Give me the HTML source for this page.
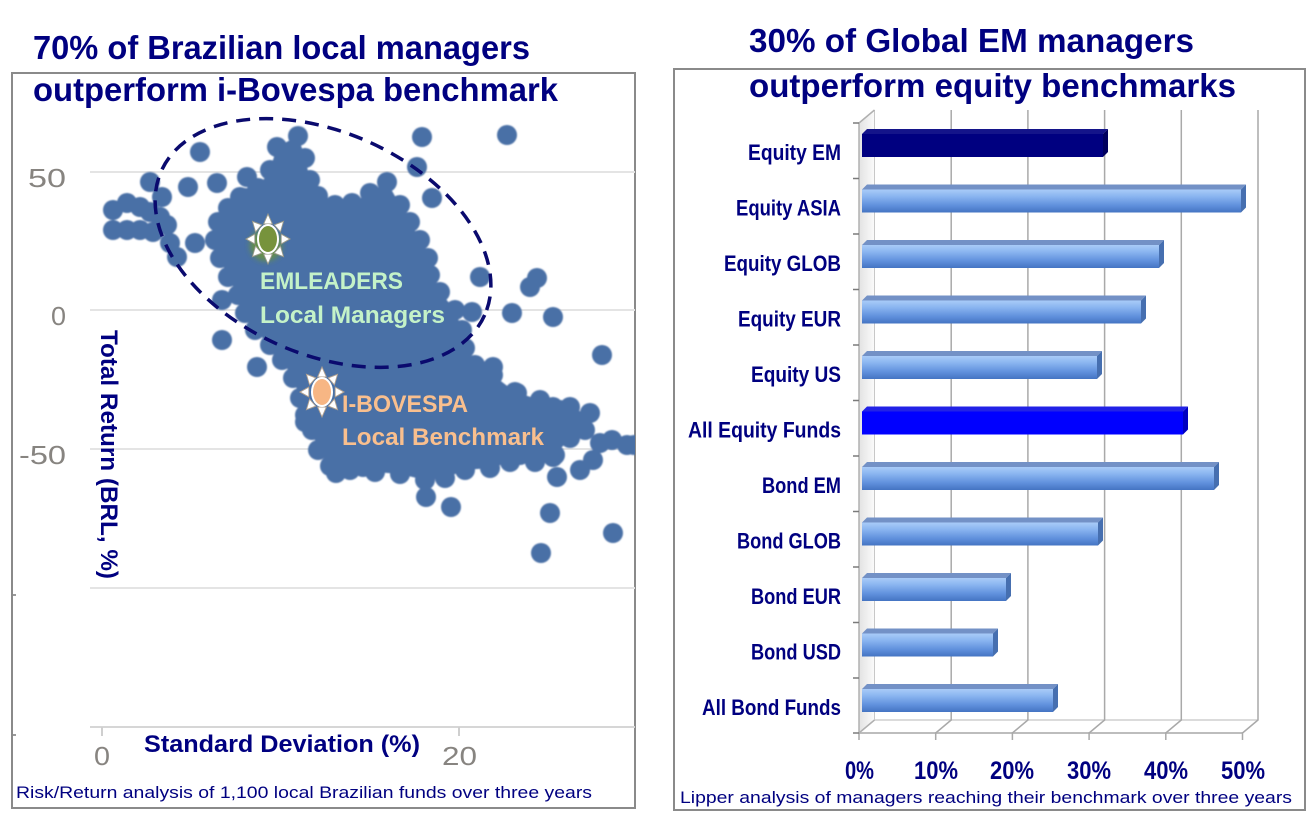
<!DOCTYPE html>
<html><head><meta charset="utf-8"><style>
html,body{margin:0;padding:0;background:#fff;}
svg{display:block;}
text{font-family:"Liberation Sans",Arial,sans-serif;}
</style></head><body>
<svg width="1309" height="817" viewBox="0 0 1309 817" xmlns="http://www.w3.org/2000/svg">
<defs>
<filter id="bl" x="-5%" y="-5%" width="110%" height="110%"><feGaussianBlur stdDeviation="0.7"/></filter>
<filter id="glow" x="-50%" y="-50%" width="200%" height="200%"><feGaussianBlur stdDeviation="3"/></filter>
<clipPath id="cl"><rect x="13" y="74" width="622" height="733"/></clipPath>
<linearGradient id="lb" x1="0" y1="0" x2="0" y2="1">
<stop offset="0" stop-color="#a9cbf8"/><stop offset="0.3" stop-color="#8ab5f0"/><stop offset="0.7" stop-color="#5f90dc"/><stop offset="1" stop-color="#4474c2"/>
</linearGradient>
<linearGradient id="wall" x1="0" y1="0" x2="1" y2="0">
<stop offset="0" stop-color="#d0d0d0"/><stop offset="1" stop-color="#f8f8f8"/>
</linearGradient>
</defs>
<rect width="1309" height="817" fill="#fff"/>

<!-- LEFT PANEL -->
<rect x="12" y="73" width="623" height="735" fill="none" stroke="#8a8a8a" stroke-width="2"/>
<text x="33" y="59" font-size="33" font-weight="bold" fill="#000080" textLength="497" lengthAdjust="spacingAndGlyphs">70% of Brazilian local managers</text>
<text x="33" y="101" font-size="33" font-weight="bold" fill="#000080" textLength="525" lengthAdjust="spacingAndGlyphs">outperform i-Bovespa benchmark</text>

<!-- gridlines -->
<g stroke="#e4e4e4" stroke-width="2">
<line x1="90" y1="172" x2="635" y2="172"/>
<line x1="90" y1="310" x2="635" y2="310"/>
<line x1="90" y1="449" x2="635" y2="449"/>
<line x1="90" y1="588" x2="635" y2="588"/>
</g>
<line x1="90" y1="727" x2="635" y2="727" stroke="#d6d6d6" stroke-width="2"/>
<line x1="102" y1="727" x2="102" y2="736" stroke="#cfcfcf" stroke-width="2"/>
<line x1="459" y1="727" x2="459" y2="736" stroke="#cfcfcf" stroke-width="2"/>
<rect x="13" y="594" width="3" height="2" fill="#999"/>
<rect x="13" y="734" width="3" height="2" fill="#999"/>

<g font-size="26" fill="#878480">
<text x="28" y="187" textLength="38" lengthAdjust="spacingAndGlyphs">50</text>
<text x="51" y="325" textLength="15" lengthAdjust="spacingAndGlyphs">0</text>
<text x="19" y="464" textLength="47" lengthAdjust="spacingAndGlyphs">-50</text>
<text x="94" y="765" textLength="16" lengthAdjust="spacingAndGlyphs">0</text>
<text x="442" y="765" textLength="35" lengthAdjust="spacingAndGlyphs">20</text>
</g>

<!-- scatter -->
<g clip-path="url(#cl)">
<g fill="#4a70a6" filter="url(#bl)">
<polygon points="277,147 298,136 305,158 310,180 318,196 335,205 352,203 370,193 387,182 400,205 410,222 420,240 428,258 430,275 440,292 455,310 462,330 465,348 475,365 493,375 515,392 540,400 560,410 575,420 570,438 555,455 535,462 510,462 490,468 465,470 445,478 425,480 400,474 375,472 350,470 330,466 318,450 312,430 305,415 300,398 293,378 282,360 270,345 255,330 245,313 238,295 228,277 220,258 215,240 218,222 228,208 245,198 258,188 270,170"/>
<g>
<circle cx="277" cy="147" r="10"/><circle cx="298" cy="136" r="10"/><circle cx="305" cy="158" r="10"/><circle cx="310" cy="180" r="10"/><circle cx="318" cy="196" r="10"/><circle cx="335" cy="205" r="10"/><circle cx="352" cy="203" r="10"/><circle cx="370" cy="193" r="10"/><circle cx="387" cy="182" r="10"/><circle cx="400" cy="205" r="10"/><circle cx="410" cy="222" r="10"/><circle cx="420" cy="240" r="10"/><circle cx="428" cy="258" r="10"/><circle cx="430" cy="275" r="10"/><circle cx="440" cy="292" r="10"/><circle cx="455" cy="310" r="10"/><circle cx="462" cy="330" r="10"/><circle cx="465" cy="348" r="10"/><circle cx="475" cy="365" r="10"/><circle cx="493" cy="375" r="10"/><circle cx="515" cy="392" r="10"/><circle cx="540" cy="400" r="10"/><circle cx="560" cy="410" r="10"/><circle cx="575" cy="420" r="10"/><circle cx="570" cy="438" r="10"/><circle cx="555" cy="455" r="10"/><circle cx="535" cy="462" r="10"/><circle cx="510" cy="462" r="10"/><circle cx="490" cy="468" r="10"/><circle cx="465" cy="470" r="10"/><circle cx="445" cy="478" r="10"/><circle cx="425" cy="480" r="10"/><circle cx="400" cy="474" r="10"/><circle cx="375" cy="472" r="10"/><circle cx="350" cy="470" r="10"/><circle cx="330" cy="466" r="10"/><circle cx="318" cy="450" r="10"/><circle cx="312" cy="430" r="10"/><circle cx="305" cy="415" r="10"/><circle cx="300" cy="398" r="10"/><circle cx="293" cy="378" r="10"/><circle cx="282" cy="360" r="10"/><circle cx="270" cy="345" r="10"/><circle cx="255" cy="330" r="10"/><circle cx="245" cy="313" r="10"/><circle cx="238" cy="295" r="10"/><circle cx="228" cy="277" r="10"/><circle cx="220" cy="258" r="10"/><circle cx="215" cy="240" r="10"/><circle cx="218" cy="222" r="10"/><circle cx="228" cy="208" r="10"/><circle cx="245" cy="198" r="10"/><circle cx="258" cy="188" r="10"/><circle cx="270" cy="170" r="10"/>
</g>
<g>
<!-- left cluster -->
<circle cx="113" cy="210" r="10"/><circle cx="127" cy="203" r="10"/><circle cx="140" cy="207" r="10"/><circle cx="150" cy="212" r="10"/><circle cx="160" cy="217" r="10"/><circle cx="113" cy="230" r="10"/><circle cx="127" cy="230" r="10"/><circle cx="140" cy="230" r="10"/><circle cx="153" cy="232" r="10"/><circle cx="167" cy="225" r="10"/><circle cx="170" cy="243" r="10"/><circle cx="177" cy="257" r="10"/><circle cx="162" cy="197" r="10"/><circle cx="150" cy="182" r="10"/>
<!-- upper isolated -->
<circle cx="200" cy="152" r="10"/><circle cx="188" cy="187" r="10"/><circle cx="217" cy="183" r="10"/><circle cx="195" cy="243" r="10"/><circle cx="247" cy="177" r="10"/><circle cx="257" cy="190" r="10"/><circle cx="240" cy="197" r="10"/><circle cx="222" cy="300" r="10"/><circle cx="222" cy="340" r="10"/><circle cx="257" cy="367" r="10"/>
<!-- right side -->
<circle cx="422" cy="137" r="10"/><circle cx="507" cy="135" r="10"/><circle cx="417" cy="167" r="10"/><circle cx="432" cy="198" r="10"/><circle cx="480" cy="277" r="10"/><circle cx="537" cy="278" r="10"/><circle cx="530" cy="287" r="10"/><circle cx="472" cy="312" r="10"/><circle cx="512" cy="313" r="10"/><circle cx="553" cy="317" r="10"/><circle cx="602" cy="355" r="10"/><circle cx="493" cy="367" r="10"/><circle cx="517" cy="393" r="10"/>
<!-- lower right -->
<circle cx="553" cy="407" r="10"/><circle cx="570" cy="407" r="10"/><circle cx="590" cy="413" r="10"/><circle cx="600" cy="443" r="10"/><circle cx="612" cy="440" r="10"/><circle cx="627" cy="445" r="10"/><circle cx="634" cy="445" r="10"/><circle cx="553" cy="457" r="10"/><circle cx="593" cy="460" r="10"/><circle cx="557" cy="477" r="10"/><circle cx="550" cy="513" r="10"/><circle cx="613" cy="533" r="10"/><circle cx="541" cy="553" r="10"/><circle cx="426" cy="497" r="10"/><circle cx="451" cy="507" r="10"/><circle cx="336" cy="473" r="10"/><circle cx="363" cy="467" r="10"/><circle cx="305" cy="422" r="10"/><circle cx="585" cy="430" r="10"/><circle cx="520" cy="455" r="10"/><circle cx="580" cy="470" r="10"/>
</g>
</g>
</g>

<!-- dashed ellipse -->
<ellipse cx="323" cy="243" rx="177" ry="111" transform="rotate(24 323 243)" fill="none" stroke="#0a0a6e" stroke-width="3.5" stroke-dasharray="14 9"/>

<!-- green sun -->
<circle cx="266" cy="245" r="16" fill="#6e9a2a" opacity="0.75" filter="url(#glow)"/>
<g transform="translate(268,239)">
<g transform="scale(0.88,1)" fill="#fff" stroke="#9a9a8a" stroke-width="1">
<polygon points="0,-25 -5,-15 5,-15"/>
<polygon points="0,-25 -5,-15 5,-15" transform="rotate(45)"/>
<polygon points="0,-25 -5,-15 5,-15" transform="rotate(90)"/>
<polygon points="0,-25 -5,-15 5,-15" transform="rotate(135)"/>
<polygon points="0,-25 -5,-15 5,-15" transform="rotate(180)"/>
<polygon points="0,-25 -5,-15 5,-15" transform="rotate(225)"/>
<polygon points="0,-25 -5,-15 5,-15" transform="rotate(270)"/>
<polygon points="0,-25 -5,-15 5,-15" transform="rotate(315)"/>
</g>
<ellipse rx="11" ry="15" fill="#fff"/>
<ellipse rx="9" ry="13" fill="#77933c"/>
</g>

<!-- orange sun -->
<g transform="translate(322,392)">
<g transform="scale(0.88,1)" fill="#fff" stroke="#b0a090" stroke-width="1">
<polygon points="0,-25 -5,-15 5,-15"/>
<polygon points="0,-25 -5,-15 5,-15" transform="rotate(45)"/>
<polygon points="0,-25 -5,-15 5,-15" transform="rotate(90)"/>
<polygon points="0,-25 -5,-15 5,-15" transform="rotate(135)"/>
<polygon points="0,-25 -5,-15 5,-15" transform="rotate(180)"/>
<polygon points="0,-25 -5,-15 5,-15" transform="rotate(225)"/>
<polygon points="0,-25 -5,-15 5,-15" transform="rotate(270)"/>
<polygon points="0,-25 -5,-15 5,-15" transform="rotate(315)"/>
</g>
<ellipse rx="11" ry="15" fill="#fff"/>
<ellipse rx="9" ry="13" fill="#f7b684"/>
</g>

<g font-size="24" font-weight="bold">
<text x="260" y="289" fill="#c4f2c8" textLength="143" lengthAdjust="spacingAndGlyphs">EMLEADERS</text>
<text x="260" y="323" fill="#c4f2c8" textLength="185" lengthAdjust="spacingAndGlyphs">Local Managers</text>
<text x="342" y="412" fill="#f9bf8e" textLength="126" lengthAdjust="spacingAndGlyphs">I-BOVESPA</text>
<text x="342" y="445" fill="#f9bf8e" textLength="202" lengthAdjust="spacingAndGlyphs">Local Benchmark</text>
</g>

<text transform="translate(101,330) rotate(90)" font-size="24" font-weight="bold" fill="#000080" textLength="249" lengthAdjust="spacingAndGlyphs">Total Return (BRL, %)</text>
<text x="144" y="752" font-size="24" font-weight="bold" fill="#000080" textLength="276" lengthAdjust="spacingAndGlyphs">Standard Deviation (%)</text>
<text x="16" y="798" font-size="17" fill="#000080" textLength="576" lengthAdjust="spacingAndGlyphs">Risk/Return analysis of 1,100 local Brazilian funds over three years</text>

<!-- RIGHT PANEL -->
<rect x="674" y="69" width="631" height="741" fill="none" stroke="#8a8a8a" stroke-width="2"/>
<text x="749" y="52" font-size="33" font-weight="bold" fill="#000080" textLength="445" lengthAdjust="spacingAndGlyphs">30% of Global EM managers</text>
<text x="749" y="97" font-size="33" font-weight="bold" fill="#000080" textLength="487" lengthAdjust="spacingAndGlyphs">outperform equity benchmarks</text>

<!-- wall -->
<polygon points="859,123 874.5,110 874.5,720 859,733" fill="url(#wall)" opacity="0.6"/>
<line x1="874.5" y1="110" x2="874.5" y2="720" stroke="#c8c8c8" stroke-width="1"/>
<line x1="859" y1="123" x2="859" y2="733" stroke="#b0b0b0" stroke-width="1.5"/>
<line x1="859" y1="123" x2="874.5" y2="110" stroke="#b0b0b0" stroke-width="1.5"/>
<!-- floor -->
<line x1="874.5" y1="720" x2="1258" y2="720" stroke="#cfcfcf" stroke-width="1.5"/>
<line x1="859" y1="733" x2="1243" y2="733" stroke="#bdbdbd" stroke-width="2"/>
<line x1="859" y1="733" x2="874.5" y2="720" stroke="#b0b0b0" stroke-width="1.5"/>
<!-- gridlines -->
<g stroke="#a9a9a9" stroke-width="1.5" fill="none">
<polyline points="951.2,110 951.2,720 935.7,733 935.7,740"/>
<polyline points="1027.9,110 1027.9,720 1012.4,733 1012.4,740"/>
<polyline points="1104.6,110 1104.6,720 1089.1,733 1089.1,740"/>
<polyline points="1181.3,110 1181.3,720 1165.8,733 1165.8,740"/>
<polyline points="1258,110 1258,720 1242.5,733 1242.5,740"/>
<line x1="859" y1="733" x2="859" y2="740"/>
</g>
<g stroke="#7a7a7a" stroke-width="1.5">
<line x1="853" y1="123" x2="859" y2="123"/><line x1="853" y1="178.5" x2="859" y2="178.5"/><line x1="853" y1="234" x2="859" y2="234"/><line x1="853" y1="289.5" x2="859" y2="289.5"/><line x1="853" y1="345" x2="859" y2="345"/><line x1="853" y1="400.5" x2="859" y2="400.5"/><line x1="853" y1="456" x2="859" y2="456"/><line x1="853" y1="511.5" x2="859" y2="511.5"/><line x1="853" y1="567" x2="859" y2="567"/><line x1="853" y1="622.5" x2="859" y2="622.5"/><line x1="853" y1="678" x2="859" y2="678"/><line x1="853" y1="733" x2="859" y2="733"/>
</g>

<!-- bars -->
<!-- Equity EM T=129 -->
<g>
<polygon points="862,134 867,129 1108,129 1103,134" fill="#14148a"/>
<rect x="862" y="134" width="241" height="23" fill="#000080"/>
<polygon points="1103,134 1108,129 1108,152 1103,157" fill="#00005e"/>
</g>
<!-- Equity ASIA T=184.5 -->
<g>
<polygon points="862,189.5 867,184.5 1246,184.5 1241,189.5" fill="#7391c6"/>
<rect x="862" y="189.5" width="379" height="23" fill="url(#lb)"/>
<polygon points="1241,189.5 1246,184.5 1246,207.5 1241,212.5" fill="#466fb0"/>
</g>
<!-- Equity GLOB T=240 -->
<g>
<polygon points="862,245 867,240 1164,240 1159,245" fill="#7391c6"/>
<rect x="862" y="245" width="297" height="23" fill="url(#lb)"/>
<polygon points="1159,245 1164,240 1164,263 1159,268" fill="#466fb0"/>
</g>
<!-- Equity EUR T=295.5 -->
<g>
<polygon points="862,300.5 867,295.5 1146,295.5 1141,300.5" fill="#7391c6"/>
<rect x="862" y="300.5" width="279" height="23" fill="url(#lb)"/>
<polygon points="1141,300.5 1146,295.5 1146,318.5 1141,323.5" fill="#466fb0"/>
</g>
<!-- Equity US T=351 -->
<g>
<polygon points="862,356 867,351 1102,351 1097,356" fill="#7391c6"/>
<rect x="862" y="356" width="235" height="23" fill="url(#lb)"/>
<polygon points="1097,356 1102,351 1102,374 1097,379" fill="#466fb0"/>
</g>
<!-- All Equity T=406.5 -->
<g>
<polygon points="862,411.5 867,406.5 1188,406.5 1183,411.5" fill="#2222e6"/>
<rect x="862" y="411.5" width="321" height="23" fill="#0000ff"/>
<polygon points="1183,411.5 1188,406.5 1188,429.5 1183,434.5" fill="#0000c0"/>
</g>
<!-- Bond EM T=462 -->
<g>
<polygon points="862,467 867,462 1219,462 1214,467" fill="#7391c6"/>
<rect x="862" y="467" width="352" height="23" fill="url(#lb)"/>
<polygon points="1214,467 1219,462 1219,485 1214,490" fill="#466fb0"/>
</g>
<!-- Bond GLOB T=517.5 -->
<g>
<polygon points="862,522.5 867,517.5 1103,517.5 1098,522.5" fill="#7391c6"/>
<rect x="862" y="522.5" width="236" height="23" fill="url(#lb)"/>
<polygon points="1098,522.5 1103,517.5 1103,540.5 1098,545.5" fill="#466fb0"/>
</g>
<!-- Bond EUR T=573 -->
<g>
<polygon points="862,578 867,573 1011,573 1006,578" fill="#7391c6"/>
<rect x="862" y="578" width="144" height="23" fill="url(#lb)"/>
<polygon points="1006,578 1011,573 1011,596 1006,601" fill="#466fb0"/>
</g>
<!-- Bond USD T=628.5 -->
<g>
<polygon points="862,633.5 867,628.5 998,628.5 993,633.5" fill="#7391c6"/>
<rect x="862" y="633.5" width="131" height="23" fill="url(#lb)"/>
<polygon points="993,633.5 998,628.5 998,651.5 993,656.5" fill="#466fb0"/>
</g>
<!-- All Bond T=684 -->
<g>
<polygon points="862,689 867,684 1058,684 1053,689" fill="#7391c6"/>
<rect x="862" y="689" width="191" height="23" fill="url(#lb)"/>
<polygon points="1053,689 1058,684 1058,707 1053,712" fill="#466fb0"/>
</g>

<!-- category labels -->
<g font-size="22" font-weight="bold" fill="#000080">
<text x="748" y="160" textLength="93" lengthAdjust="spacingAndGlyphs">Equity EM</text>
<text x="736" y="215.5" textLength="105" lengthAdjust="spacingAndGlyphs">Equity ASIA</text>
<text x="724" y="271" textLength="117" lengthAdjust="spacingAndGlyphs">Equity GLOB</text>
<text x="738" y="326.5" textLength="103" lengthAdjust="spacingAndGlyphs">Equity EUR</text>
<text x="751" y="382" textLength="90" lengthAdjust="spacingAndGlyphs">Equity US</text>
<text x="688" y="437.5" textLength="153" lengthAdjust="spacingAndGlyphs">All Equity Funds</text>
<text x="762" y="493" textLength="79" lengthAdjust="spacingAndGlyphs">Bond EM</text>
<text x="737" y="548.5" textLength="104" lengthAdjust="spacingAndGlyphs">Bond GLOB</text>
<text x="751" y="604" textLength="90" lengthAdjust="spacingAndGlyphs">Bond EUR</text>
<text x="751" y="659.5" textLength="90" lengthAdjust="spacingAndGlyphs">Bond USD</text>
<text x="702" y="715" textLength="139" lengthAdjust="spacingAndGlyphs">All Bond Funds</text>
</g>

<!-- x labels -->
<g font-size="25" font-weight="bold" fill="#000080">
<text x="845" y="779" textLength="29" lengthAdjust="spacingAndGlyphs">0%</text>
<text x="914" y="779" textLength="44" lengthAdjust="spacingAndGlyphs">10%</text>
<text x="990" y="779" textLength="44" lengthAdjust="spacingAndGlyphs">20%</text>
<text x="1067" y="779" textLength="44" lengthAdjust="spacingAndGlyphs">30%</text>
<text x="1144" y="779" textLength="44" lengthAdjust="spacingAndGlyphs">40%</text>
<text x="1221" y="779" textLength="44" lengthAdjust="spacingAndGlyphs">50%</text>
</g>
<text x="680" y="803" font-size="17" fill="#000080" textLength="612" lengthAdjust="spacingAndGlyphs">Lipper analysis of managers reaching their benchmark over three years</text>
</svg>
</body></html>
